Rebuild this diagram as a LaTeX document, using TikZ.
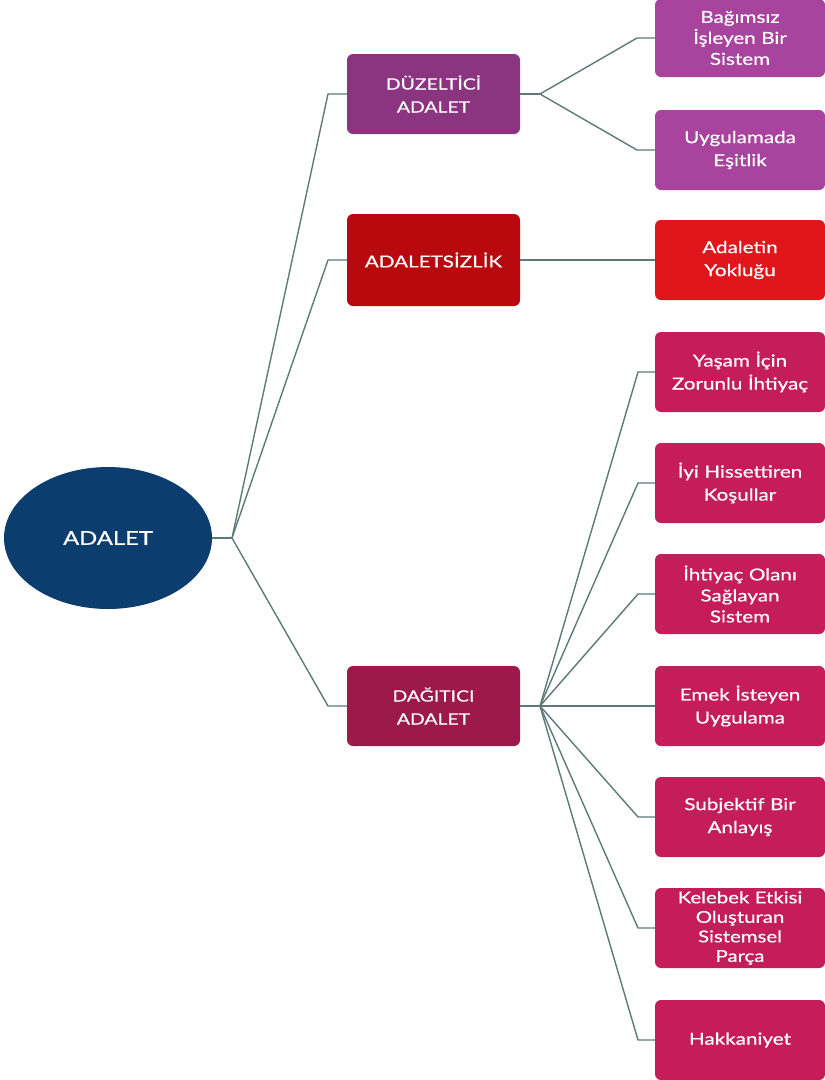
\documentclass[tikz,border=0pt]{standalone}
\usepackage{fontspec}
\setmainfont{Lato}[FakeStretch=1.25, FakeBold=0.5]
\usetikzlibrary{shapes.geometric}
\definecolor{navy}{HTML}{0C3D6F}
\definecolor{purpd}{HTML}{8B3580}
\definecolor{purpl}{HTML}{A8449E}
\definecolor{redd}{HTML}{B80A0E}
\definecolor{redl}{HTML}{E1161B}
\definecolor{wined}{HTML}{9C1A49}
\definecolor{winel}{HTML}{C51D59}
\definecolor{linec}{HTML}{5E7976}
\tikzset{
  x=1pt, y=-1pt,
  boxbase/.style={rectangle, rounded corners=6pt, minimum width=172pt, minimum height=80pt,
    text=white, align=center, inner sep=2pt, font=\fontsize{16.5}{23}\selectfont},
  midbox/.style={boxbase, minimum width=173pt},
  leafbox/.style={boxbase, minimum width=170pt, text width=166pt},
  conn/.style={draw=linec, line width=1.4pt, line join=round},
}
\begin{document}
\begin{tikzpicture}
\useasboundingbox (0,0) rectangle (825,1080);
% root
\node[ellipse, fill=navy, minimum width=208pt, minimum height=142pt, text=white,
  font=\fontsize{19}{23}\selectfont] (root) at (108,538) {ADALET};
% middle level
\node[midbox, fill=purpd, font=\fontsize{15.5}{23}\selectfont] (duz) at (433.5,94) {DÜZELTİCİ\\ADALET};
\node[midbox, fill=redd, minimum height=92pt] (adz) at (433.5,260) {ADALETSİZLİK};
\node[midbox, fill=wined, font=\fontsize{15.5}{23}\selectfont] (dag) at (433.5,706) {DAĞITICI\\ADALET};
% leaves
\node[leafbox, fill=purpl, minimum height=78pt, font=\fontsize{16.5}{21}\selectfont] (bag) at (740,38) {Bağımsız\\İşleyen Bir\\Sistem};
\node[leafbox, fill=purpl] (uyg) at (740,150) {Uygulamada\\Eşitlik};
\node[leafbox, fill=redl] (yok) at (740,260) {Adaletin\\Yokluğu};
\node[leafbox, fill=winel] (yas) at (740,372) {Yaşam İçin\\Zorunlu İhtiyaç};
\node[leafbox, fill=winel] (iyi) at (740,483) {İyi Hissettiren\\Koşullar};
\node[leafbox, fill=winel, font=\fontsize{16.5}{21}\selectfont] (iht) at (740,594) {İhtiyaç Olanı\\Sağlayan\\Sistem};
\node[leafbox, fill=winel] (eme) at (740,706) {Emek İsteyen\\Uygulama};
\node[leafbox, fill=winel] (sub) at (740,817) {Subjektif Bir\\Anlayış};
\node[leafbox, fill=winel, font=\fontsize{16.3}{19.5}\selectfont] (kel) at (740,928) {Kelebek Etkisi\\Oluşturan\\Sistemsel\\Parça};
\node[leafbox, fill=winel] (hak) at (740,1040) {Hakkaniyet};
% junctions
\coordinate (j0) at (232,538);
\coordinate (j1) at (540,94);
\coordinate (j3) at (540,706);
% root connectors
\draw[conn] (root.east) -- (j0);
\draw[conn] (j0) -- (328,94) -- (duz.west);
\draw[conn] (j0) -- (328,260) -- (adz.west);
\draw[conn] (j0) -- (328,706) -- (dag.west);
% düzeltici
\draw[conn] (duz.east) -- (j1);
\draw[conn] (j1) -- (637,38) -- (bag.west);
\draw[conn] (j1) -- (637,150) -- (uyg.west);
% adaletsizlik
\draw[conn] (adz.east) -- (yok.west);
% dağıtıcı
\draw[conn] (dag.east) -- (j3);
\foreach \n/\yy in {yas/372, iyi/483, iht/594, eme/706, sub/817, kel/928, hak/1040}
  \draw[conn] (j3) -- (638,\yy) -- (\n.west);
\end{tikzpicture}
\end{document}
